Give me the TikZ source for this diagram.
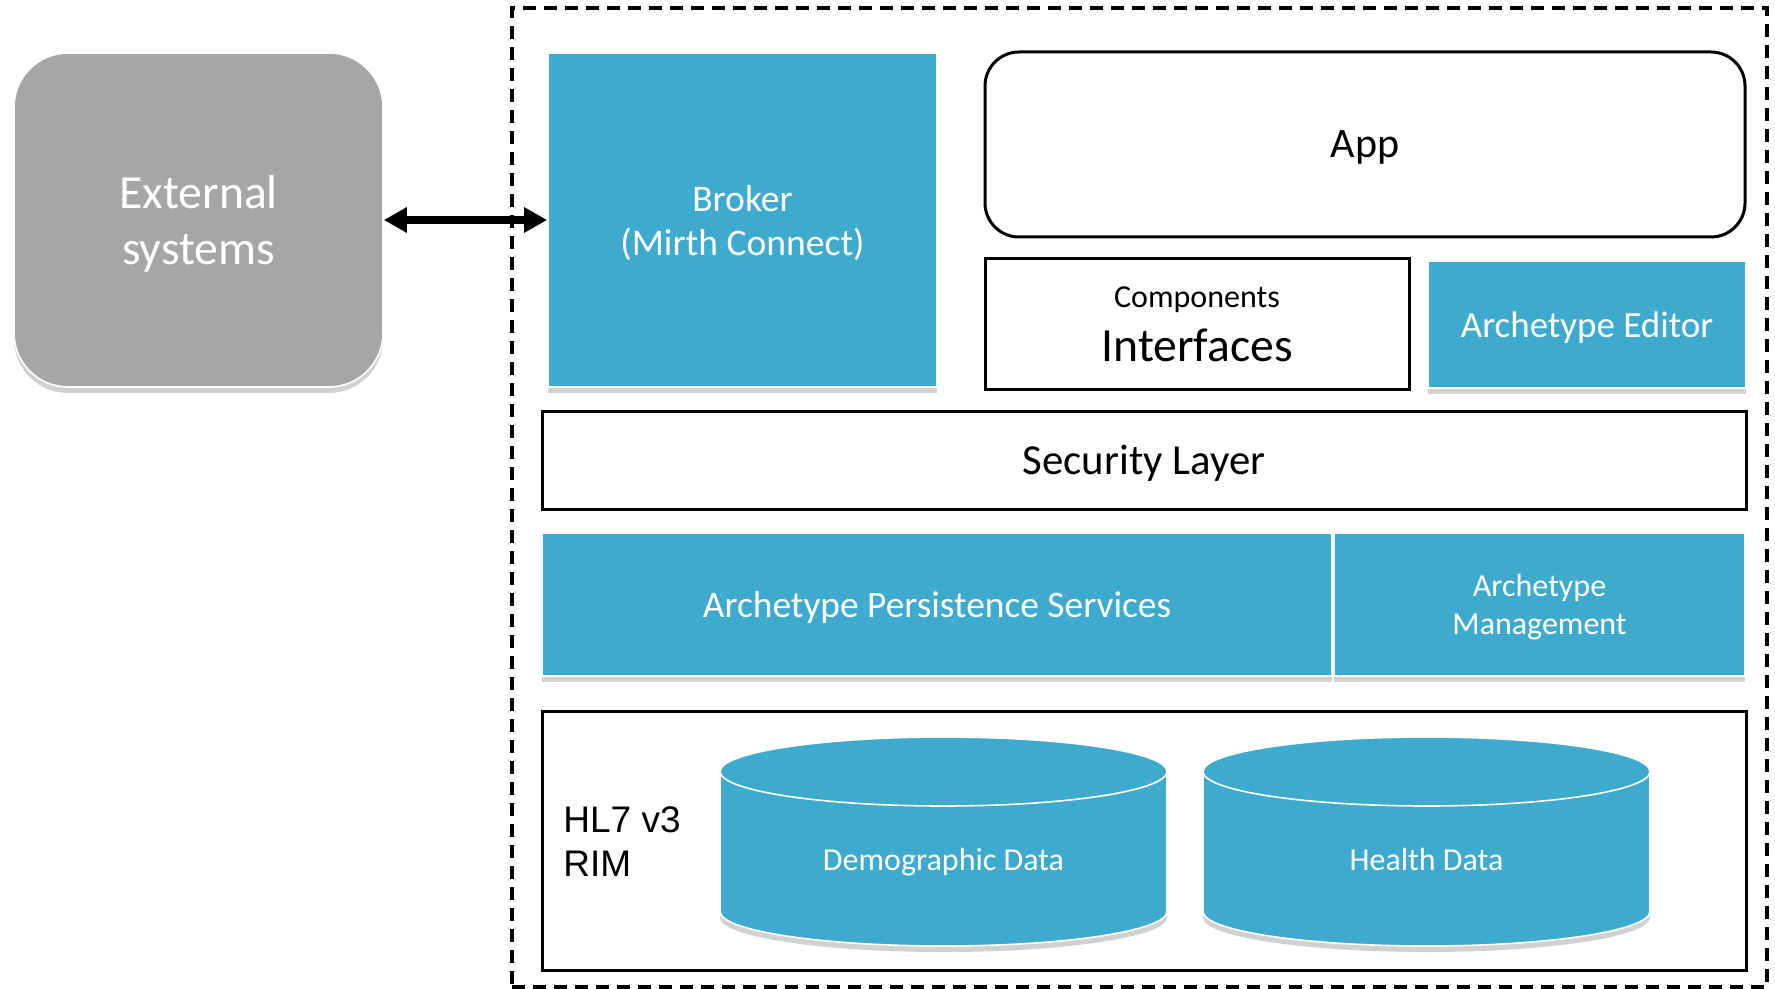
\documentclass[tikz,border=0pt]{standalone}
\usepackage{fontspec}
\setmainfont{Carlito}
\newfontfamily\arialfont{Liberation Sans}
\usetikzlibrary{arrows.meta,shadows}

\definecolor{layerblue}{RGB}{62,171,206}
\definecolor{extgray}{RGB}{166,166,166}

\tikzset{
  softshadow/.style={drop shadow={shadow xshift=0pt, shadow yshift=-3pt, opacity=0.18, fill=black}},
  lowtext/.style={text depth=#1},
  lowtext/.default=0pt,
  bluebox/.style={fill=layerblue, draw=white, line width=0.8pt, text=white, inner sep=0pt, align=center, lowtext, softshadow},
  framebox/.style={fill=white, draw=black, line width=1.5pt, inner sep=0pt, align=center},
  cyltext/.style={text=white, anchor=base, font=\fontsize{16}{19}\selectfont},
}

\begin{document}
\begin{tikzpicture}[x=0.5pt, y=-0.5pt]
\useasboundingbox (0,0) rectangle (1775,989);

% dashed platform frame
\node [draw, line width=2.4pt, dash pattern=on 6.5pt off 4pt, inner sep=0pt,
  minimum width=627.5pt, minimum height=489.5pt] (platform) at (1139.5,497.5) {};

% outside world
\node [fill=extgray, draw=white, line width=0.8pt, rounded corners=27pt, softshadow, text=white,
  align=center, inner sep=0pt, lowtext, minimum width=184.5pt, minimum height=167pt,
  font=\fontsize{23.8}{28}\selectfont] (ext) at (198.5,220) {External\\systems};

% top row
\node [bluebox, minimum width=194.5pt, minimum height=167pt, font=\fontsize{18.8}{22}\selectfont]
  (broker) at (742.5,220) {Broker\\(Mirth Connect)};
\node [framebox, lowtext=-2.5pt, rounded corners=17pt, minimum width=380pt, minimum height=92.5pt,
  font=\fontsize{21}{25}\selectfont] (app) at (1365,144.5) {App};
\node [framebox, minimum width=212pt, minimum height=65pt, font=\fontsize{23.8}{27}\selectfont]
  (iface) at (1197,324) {{\fontsize{16}{18}\selectfont Components}\\Interfaces};
\node [bluebox, minimum width=159pt, minimum height=63.5pt, font=\fontsize{18.5}{22}\selectfont]
  (editor) at (1587,324.5) {Archetype Editor};

% middle layers
\node [framebox, lowtext=-2pt, minimum width=602pt, minimum height=49pt, font=\fontsize{21.4}{25}\selectfont]
  (security) at (1144,460) {Security Layer};
\node [bluebox, lowtext=-2.5pt, minimum width=395pt, minimum height=71.5pt, font=\fontsize{18.7}{22}\selectfont]
  (persist) at (937,604.5) {Archetype Persistence Services};
\node [bluebox, minimum width=205.5pt, minimum height=71.5pt, font=\fontsize{16}{19.3}\selectfont]
  (manage) at (1539.5,604.5) {Archetype\\Management};

% storage layer
\node [framebox, minimum width=602pt, minimum height=129.5pt] (rim) at (1144,840.5) {};
\node [anchor=west, align=left, inner sep=0pt, font=\arialfont\fontsize{18.5}{22}\selectfont]
  (rimlabel) at (563,842) {HL7 v3\\RIM};

% databases
\fill [layerblue, softshadow] (720,771.5) -- (720,911.5)
  arc [start angle=180, end angle=360, x radius=111.75pt, y radius=17.25pt]
  -- (1167,771.5) arc [start angle=0, end angle=180, x radius=111.75pt, y radius=17.25pt] -- cycle;
\draw [white, line width=0.8pt] (720,771.5) -- (720,911.5)
  arc [start angle=180, end angle=360, x radius=111.75pt, y radius=17.25pt] -- (1167,771.5);
\draw [white, line width=0.8pt] (943.5,771.5) ellipse [x radius=111.75pt, y radius=17.25pt];
\node [cyltext] (demo) at (943.5,870) {Demographic Data};

\fill [layerblue, softshadow] (1203,771.5) -- (1203,911.5)
  arc [start angle=180, end angle=360, x radius=111.75pt, y radius=17.25pt]
  -- (1650,771.5) arc [start angle=0, end angle=180, x radius=111.75pt, y radius=17.25pt] -- cycle;
\draw [white, line width=0.8pt] (1203,771.5) -- (1203,911.5)
  arc [start angle=180, end angle=360, x radius=111.75pt, y radius=17.25pt] -- (1650,771.5);
\draw [white, line width=0.8pt] (1426.5,771.5) ellipse [x radius=111.75pt, y radius=17.25pt];
\node [cyltext] (health) at (1426.5,870) {Health Data};

% link to outside
\draw [line width=4pt, {Triangle[length=11.5pt,width=12pt]}-{Triangle[length=11.5pt,width=12pt]}]
  (ext.east) -- (broker.west);

\end{tikzpicture}
\end{document}
